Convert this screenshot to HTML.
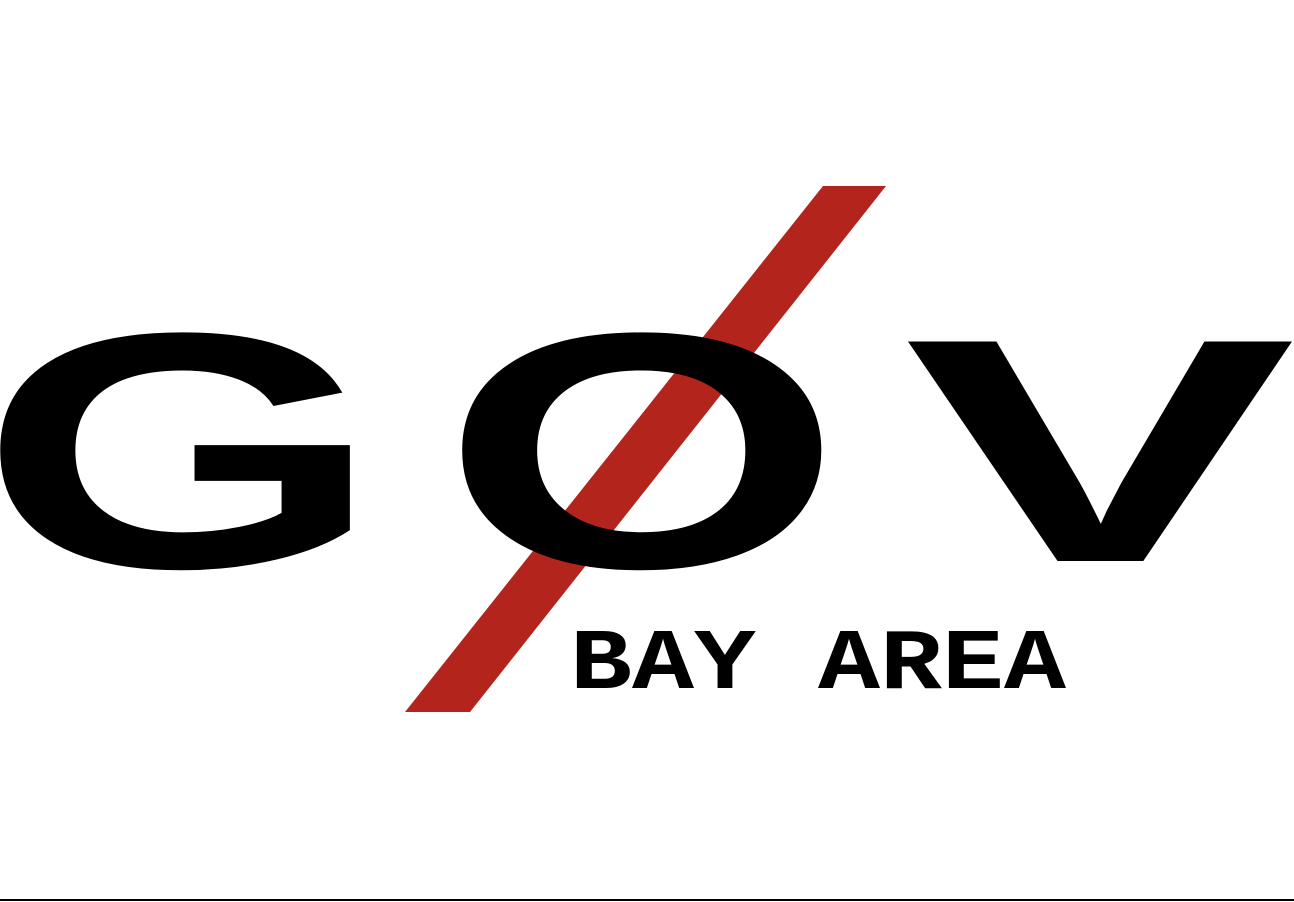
<!DOCTYPE html>
<html>
<head>
<meta charset="utf-8">
<style>
html,body{margin:0;padding:0;background:#fff;width:1294px;height:902px;overflow:hidden;}
svg{display:block;}
</style>
</head>
<body>
<svg width="1294" height="902" viewBox="0 0 1294 902">
  <polygon points="823,186 886,186 470,712 405,712" fill="#b3251c"/>
  <text x="-21" y="567" font-family="Liberation Sans, sans-serif" font-weight="bold" font-size="336" textLength="403" lengthAdjust="spacingAndGlyphs">G</text>
  <text x="441" y="567" font-family="Liberation Sans, sans-serif" font-weight="bold" font-size="336" textLength="402" lengthAdjust="spacingAndGlyphs">O</text>
  <text x="904" y="561" font-family="Liberation Sans, sans-serif" font-weight="bold" font-size="319" textLength="392" lengthAdjust="spacingAndGlyphs">V</text>
  <text x="570" y="688" font-family="Liberation Mono, monospace" font-weight="bold" font-size="86" textLength="496" lengthAdjust="spacingAndGlyphs">BAY AREA</text>
  <rect x="0" y="899" width="1294" height="2" fill="#000"/>
</svg>
</body>
</html>
